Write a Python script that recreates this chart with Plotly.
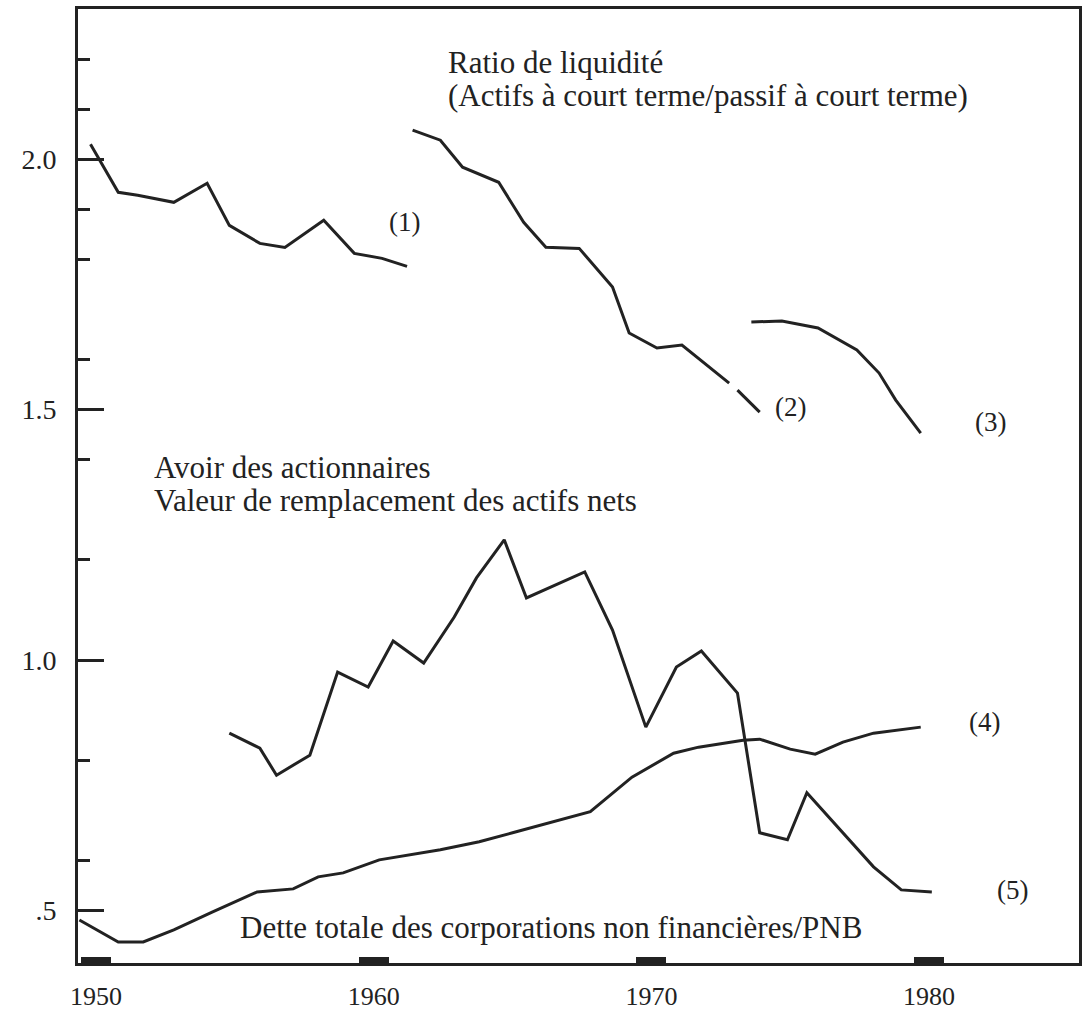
import plotly.graph_objects as go

# ratio de liquidité, three overlapping series
liq1_years = [1949.8, 1950.8, 1951.5, 1952.8, 1954.0, 1954.8, 1955.9, 1956.8, 1958.2, 1959.3, 1960.3, 1961.2]
liq1_vals = [2.03, 1.934, 1.928, 1.914, 1.952, 1.868, 1.832, 1.824, 1.878, 1.812, 1.802, 1.786]

liq2_years = [1961.4, 1962.4, 1963.2, 1964.5, 1965.4, 1966.2, 1967.4, 1968.6, 1969.2, 1970.2, 1971.1,
              1972.2, 1972.8, None, 1973.1, 1973.9]
liq2_vals = [2.058, 2.038, 1.984, 1.954, 1.874, 1.824, 1.822, 1.745, 1.653, 1.623, 1.629,
             1.579, 1.553, None, 1.539, 1.495]

liq3_years = [1973.6, 1974.7, 1976.0, 1977.4, 1978.2, 1978.8, 1979.7]
liq3_vals = [1.675, 1.677, 1.663, 1.619, 1.573, 1.519, 1.453]

# avoir des actionnaires / valeur de remplacement des actifs nets
avoir_years = [1954.8, 1955.9, 1956.5, 1957.7, 1958.7, 1959.8, 1960.7, 1961.8, 1962.9, 1963.7,
               1964.7, 1965.5, 1967.6, 1968.6, 1969.8, 1970.9, 1971.8, 1973.1, 1973.9, 1974.9,
               1975.6, 1978.0, 1979.0, 1980.1]
avoir_vals = [0.854, 0.824, 0.770, 0.810, 0.976, 0.946, 1.038, 0.994, 1.086, 1.164,
              1.240, 1.124, 1.176, 1.060, 0.866, 0.986, 1.018, 0.934, 0.655, 0.641,
              0.735, 0.587, 0.541, 0.537]

# dette totale des corporations non financières / PNB
dette_years = [1949.4, 1950.8, 1951.7, 1952.8, 1954.2, 1955.8, 1957.1, 1958.0, 1958.9, 1960.2,
               1962.4, 1963.8, 1965.0, 1966.5, 1967.8, 1969.3, 1970.8, 1971.7, 1973.3, 1973.9,
               1975.0, 1975.9, 1976.9, 1978.0, 1979.7]
dette_vals = [0.481, 0.437, 0.437, 0.461, 0.497, 0.537, 0.543, 0.567, 0.575, 0.601,
              0.621, 0.637, 0.655, 0.677, 0.697, 0.766, 0.814, 0.826, 0.840, 0.842,
              0.822, 0.812, 0.836, 0.854, 0.866]

x_ticks = [1950, 1960, 1970, 1980]
y_major = [2.0, 1.5, 1.0, 0.5]
y_major_text = ["2.0", "1.5", "1.0", ".5"]
y_minor = [2.2, 2.1, 1.9, 1.8, 1.6, 1.4, 1.2, 0.8, 0.6]

INK = "#222222"
FONT = "Liberation Serif, Times New Roman, serif"

fig = go.Figure()
for xs, ys in [(liq1_years, liq1_vals), (liq2_years, liq2_vals), (liq3_years, liq3_vals),
               (avoir_years, avoir_vals), (dette_years, dette_vals)]:
    fig.add_trace(go.Scatter(x=xs, y=ys, mode="lines", connectgaps=False,
                             line=dict(color=INK, width=3), showlegend=False,
                             hoverinfo="skip"))

labels = [
    (1962.6, 2.194, "Ratio de liquidité", "left", 31),
    (1962.6, 2.128, "(Actifs à court terme/passif à court terme)", "left", 31),
    (1952.0, 1.385, "Avoir des actionnaires", "left", 31),
    (1952.0, 1.319, "Valeur de remplacement des actifs nets", "left", 31),
    (1955.1, 0.465, "Dette totale des corporations non financières/PNB", "left", 31),
    (1961.1, 1.874, "(1)", "center", 27),
    (1975.0, 1.505, "(2)", "center", 27),
    (1982.2, 1.475, "(3)", "center", 27),
    (1982.0, 0.876, "(4)", "center", 27),
    (1983.0, 0.541, "(5)", "center", 27),
]
for x, y, txt, anchor, size in labels:
    fig.add_annotation(x=x, y=y, text=txt, showarrow=False, xanchor=anchor, yanchor="middle",
                       font=dict(family=FONT, size=size, color=INK))

fig.update_layout(
    width=1084, height=1013,
    margin=dict(l=78, r=5, t=9, b=50),
    paper_bgcolor="white", plot_bgcolor="white",
    font=dict(family=FONT, color=INK),
    xaxis=dict(
        range=[1949.35, 1985.4], tickvals=x_ticks, ticks="inside", ticklen=6, tickwidth=30,
        tickcolor=INK, showline=True, linewidth=3, linecolor=INK, mirror=True,
        showgrid=False, zeroline=False, tickfont=dict(size=26, color=INK),
        ticklabelstandoff=8, automargin=False,
    ),
    yaxis=dict(
        range=[0.395, 2.30], tickvals=y_major, ticktext=y_major_text, ticks="inside",
        ticklen=26, tickwidth=3, tickcolor=INK, showline=True, linewidth=3, linecolor=INK,
        mirror=True, showgrid=False, zeroline=False, tickfont=dict(size=28, color=INK),
        ticklabelstandoff=13, automargin=False,
        minor=dict(tickvals=y_minor, ticks="inside", ticklen=12, tickwidth=3,
                   tickcolor=INK, showgrid=False),
    ),
)

# drop the browser's default body margin so the figure fills the window exactly
fig.write_html("out.html", config={"displayModeBar": False},
               post_script="document.body.style.margin='0';document.body.style.overflow='hidden';")
